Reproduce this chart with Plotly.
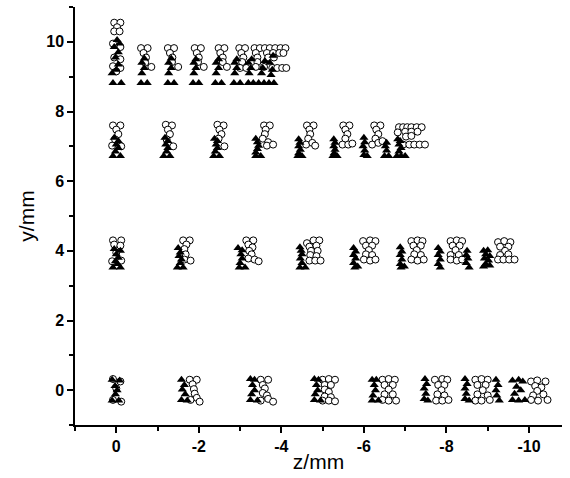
import plotly.graph_objects as go

# ---- data: (z, y) pairs, grouped by row ----
tri_row0 = [(0.1,0.3),(-0.08,0.28),(0.03,0.12),(-0.02,0.0),(0.02,-0.12),(0.1,-0.3),(-0.06,-0.3),
            (-1.58,0.3),(-1.65,0.15),(-1.6,0.02),(-1.67,-0.12),(-1.58,-0.28),(-1.72,-0.3),
            (-3.25,0.32),(-3.35,0.3),(-3.3,0.15),(-3.35,0.0),(-3.28,-0.12),(-3.25,-0.28),(-3.42,-0.3),
            (-4.8,0.32),(-4.9,0.3),(-4.85,0.15),(-4.88,0.0),(-4.82,-0.12),(-4.8,-0.28),(-4.95,-0.3),
            (-6.2,0.3),(-6.3,0.3),(-6.25,0.15),(-6.28,0.0),(-6.22,-0.15),(-6.2,-0.3),(-6.35,-0.3),
            (-7.48,0.32),(-7.52,0.18),(-7.46,0.05),(-7.5,-0.1),(-7.46,-0.25),(-7.55,-0.3),
            (-8.45,0.32),(-8.5,0.18),(-8.45,0.05),(-8.48,-0.1),(-8.45,-0.25),(-8.55,-0.3),
            (-9.2,0.3),(-9.25,0.15),(-9.2,0.0),(-9.22,-0.15),(-9.28,-0.3),
            (-9.6,0.28),(-9.75,0.3),(-9.85,0.25),(-9.7,0.1),(-9.8,0.0),(-9.65,-0.1),(-9.6,-0.28),(-9.75,-0.3),(-9.9,-0.28)]
circ_row0 = [(0.08,0.32),(-0.1,0.25),(0.0,0.05),(0.08,-0.28),(-0.12,-0.33),
             (-1.78,0.3),(-1.95,0.3),(-1.85,0.17),(-1.88,0.03),(-1.9,-0.1),(-1.95,-0.22),(-2.02,-0.33),(-1.8,-0.28),
             (-3.5,0.3),(-3.68,0.3),(-3.55,0.15),(-3.6,0.05),(-3.55,-0.08),(-3.65,-0.15),(-3.5,-0.3),(-3.68,-0.25),(-3.8,-0.33),
             (-5.0,0.3),(-5.15,0.32),(-5.3,0.3),(-5.05,0.15),(-5.2,0.15),(-5.05,0.02),(-5.15,-0.05),(-5.05,-0.18),(-5.2,-0.2),(-5.0,-0.3),(-5.15,-0.3),(-5.3,-0.32),
             (-6.45,0.3),(-6.6,0.32),(-6.75,0.3),(-6.5,0.15),(-6.7,0.15),(-6.6,0.02),(-6.5,-0.12),(-6.7,-0.12),(-6.45,-0.28),(-6.6,-0.3),(-6.78,-0.3),
             (-7.72,0.3),(-7.9,0.32),(-8.02,0.3),(-7.8,0.15),(-7.95,0.15),(-7.88,0.0),(-7.78,-0.12),(-7.95,-0.15),(-7.75,-0.3),(-7.9,-0.3),(-8.05,-0.28),
             (-8.7,0.3),(-8.85,0.32),(-9.0,0.3),(-8.75,0.15),(-8.95,0.15),(-8.88,0.0),(-8.75,-0.12),(-9.0,-0.15),(-8.7,-0.3),(-8.85,-0.3),(-9.05,-0.28),
             (-10.05,0.25),(-10.2,0.28),(-10.4,0.25),(-10.15,0.12),(-10.3,0.08),(-10.2,-0.02),(-10.1,-0.15),(-10.35,-0.12),(-10.05,-0.28),(-10.22,-0.3),(-10.45,-0.28)]

tri_row4 = [(0.05,4.05),(-0.1,4.0),(0.0,3.9),(-0.05,3.8),(0.02,3.7),(0.08,3.52),(-0.1,3.52),(-0.03,3.62),
            (-1.5,4.08),(-1.55,3.95),(-1.52,3.85),(-1.58,3.75),(-1.55,3.65),(-1.48,3.52),(-1.62,3.52),
            (-2.95,4.08),(-3.05,4.02),(-3.02,3.9),(-3.05,3.78),(-3.0,3.65),(-2.98,3.52),(-3.12,3.52),
            (-4.45,4.1),(-4.48,4.0),(-4.5,3.9),(-4.46,3.78),(-4.5,3.65),(-4.45,3.52),(-4.58,3.52),
            (-5.75,4.08),(-5.8,3.98),(-5.75,3.88),(-5.8,3.78),(-5.75,3.65),(-5.78,3.52),(-5.85,3.55),
            (-6.88,4.1),(-6.92,3.98),(-6.88,3.88),(-6.92,3.75),(-6.88,3.62),(-6.9,3.52),(-6.98,3.55),
            (-7.8,4.08),(-7.85,3.98),(-7.8,3.88),(-7.85,3.75),(-7.8,3.62),(-7.85,3.52),
            (-8.5,4.0),(-8.48,3.88),(-8.52,3.78),(-8.48,3.65),(-8.55,3.52),
            (-8.9,4.0),(-9.0,4.02),(-8.95,3.9),(-9.05,3.85),(-8.92,3.78),(-9.02,3.72),(-8.95,3.62),(-9.05,3.58),(-8.9,3.55)]
circ_row4 = [(0.08,4.3),(-0.12,4.3),(0.05,4.18),(-0.1,4.15),(0.0,3.95),(0.1,3.7),(-0.12,3.72),
             (-1.62,4.3),(-1.78,4.3),(-1.7,4.18),(-1.65,4.05),(-1.68,3.9),(-1.65,3.75),(-1.8,3.72),
             (-3.15,4.3),(-3.32,4.3),(-3.2,4.18),(-3.3,4.1),(-3.22,4.0),(-3.28,3.9),(-3.2,3.78),(-3.35,3.75),(-3.45,3.7),
             (-4.62,4.22),(-4.78,4.3),(-4.92,4.3),(-4.68,4.12),(-4.85,4.15),(-4.72,4.0),(-4.88,4.0),(-4.7,3.88),(-4.85,3.85),(-4.68,3.72),(-4.82,3.72),(-4.95,3.72),
             (-5.98,4.28),(-6.15,4.3),(-6.28,4.28),(-6.05,4.15),(-6.2,4.15),(-6.12,4.02),(-6.05,3.9),(-6.2,3.88),(-6.0,3.75),(-6.15,3.72),(-6.28,3.75),
             (-7.15,4.28),(-7.3,4.3),(-7.42,4.28),(-7.2,4.15),(-7.38,4.15),(-7.28,4.02),(-7.22,3.9),(-7.38,3.88),(-7.15,3.75),(-7.3,3.72),(-7.45,3.75),
             (-8.1,4.28),(-8.25,4.3),(-8.38,4.28),(-8.15,4.15),(-8.32,4.15),(-8.22,4.02),(-8.1,3.88),(-8.3,3.88),(-8.1,3.75),(-8.25,3.72),(-8.38,3.75),
             (-9.25,4.25),(-9.4,4.28),(-9.55,4.25),(-9.3,4.12),(-9.5,4.12),(-9.42,4.0),(-9.3,3.88),(-9.5,3.9),(-9.25,3.75),(-9.38,3.75),(-9.52,3.75),(-9.65,3.75)]

tri_row7 = [(0.05,7.25),(-0.05,7.15),(0.0,7.05),(-0.05,6.95),(0.02,6.85),(0.08,6.72),(-0.1,6.72),
            (-1.18,7.25),(-1.25,7.15),(-1.2,7.05),(-1.25,6.95),(-1.22,6.85),(-1.15,6.72),(-1.3,6.72),
            (-2.38,7.22),(-2.45,7.15),(-2.42,7.05),(-2.45,6.95),(-2.4,6.85),(-2.36,6.72),(-2.5,6.72),
            (-3.38,7.22),(-3.42,7.12),(-3.45,7.02),(-3.42,6.92),(-3.38,6.82),(-3.38,6.72),(-3.5,6.72),
            (-4.42,7.2),(-4.45,7.1),(-4.42,7.0),(-4.46,6.9),(-4.42,6.8),(-4.4,6.72),(-4.5,6.72),
            (-5.27,7.2),(-5.3,7.1),(-5.27,7.0),(-5.3,6.9),(-5.28,6.8),(-5.25,6.72),(-5.35,6.72),
            (-6.0,7.25),(-6.02,7.12),(-5.98,7.0),(-6.02,6.88),(-6.0,6.75),(-6.08,6.72),
            (-6.55,7.1),(-6.52,7.0),(-6.55,6.88),(-6.5,6.72),(-6.6,6.72),
            (-6.82,7.2),(-6.88,7.15),(-6.85,7.05),(-6.9,6.95),(-6.85,6.85),(-6.8,6.72),(-6.9,6.72),(-7.0,6.72)]
circ_row7 = [(0.08,7.6),(-0.1,7.6),(0.0,7.48),(-0.05,7.35),(0.1,7.02),(-0.12,7.0),(0.03,7.2),
             (-1.2,7.62),(-1.35,7.6),(-1.25,7.48),(-1.3,7.35),(-1.22,7.2),(-1.38,7.0),
             (-2.45,7.62),(-2.6,7.6),(-2.5,7.48),(-2.55,7.35),(-2.48,7.22),(-2.62,7.0),
             (-3.58,7.6),(-3.72,7.6),(-3.62,7.48),(-3.6,7.35),(-3.55,7.22),(-3.68,7.12),(-3.65,7.02),(-3.8,7.05),
             (-4.62,7.6),(-4.78,7.6),(-4.68,7.48),(-4.7,7.35),(-4.65,7.22),(-4.6,7.05),(-4.75,7.1),(-4.82,7.02),
             (-5.5,7.6),(-5.65,7.6),(-5.55,7.48),(-5.6,7.35),(-5.55,7.22),(-5.48,7.05),(-5.62,7.05),(-5.72,7.08),
             (-6.25,7.6),(-6.4,7.6),(-6.3,7.48),(-6.35,7.35),(-6.28,7.22),(-6.2,7.05),(-6.35,7.1),(-6.45,7.15),
             (-6.85,7.55),(-6.82,7.4),(-6.95,7.55),(-7.05,7.55),(-7.15,7.55),(-7.28,7.55),(-7.4,7.55),(-7.0,7.42),(-7.15,7.42),(-7.3,7.42),
             (-7.02,7.28),(-7.15,7.3),(-6.95,7.05),(-7.1,7.05),(-7.22,7.05),(-7.35,7.05),(-7.48,7.05)]

tri_row9 = [(0.08,8.82),(-0.12,8.82),(0.0,9.2),(-0.05,9.35),(0.02,9.55),(-0.05,9.7),(0.05,9.85),(-0.02,10.05),(0.1,9.1),(-0.08,9.95),
            (-0.6,8.82),(-0.75,8.82),(-0.62,9.1),(-0.68,9.25),(-0.62,9.4),(-0.68,9.52),
            (-1.25,8.82),(-1.4,8.82),(-1.27,9.1),(-1.33,9.25),(-1.27,9.4),(-1.33,9.52),
            (-1.86,8.82),(-2.0,8.82),(-1.88,9.1),(-1.93,9.25),(-1.88,9.4),(-1.93,9.5),
            (-2.4,8.82),(-2.55,8.82),(-2.42,9.1),(-2.48,9.25),(-2.42,9.4),(-2.48,9.5),
            (-2.85,8.82),(-3.0,8.82),(-2.87,9.1),(-2.92,9.25),(-2.87,9.4),(-2.92,9.5),
            (-3.2,8.82),(-3.32,8.82),(-3.22,9.1),(-3.26,9.25),(-3.2,9.4),(-3.28,9.5),
            (-3.45,8.82),(-3.58,8.82),(-3.7,8.82),(-3.82,8.82),(-3.52,9.1),(-3.55,9.25),(-3.6,9.45),
            (-3.75,9.05),(-3.78,9.2),(-3.72,9.4),(-3.8,9.6)]
circ_row9 = [(0.05,10.55),(-0.1,10.55),(-0.02,10.42),(0.05,10.3),(-0.08,10.3),(0.08,9.95),(-0.1,9.85),(0.05,9.55),(-0.1,9.5),(0.08,9.3),(-0.1,9.25),(0.0,9.15),
             (-0.6,9.82),(-0.76,9.82),(-0.66,9.68),(-0.72,9.55),(-0.7,9.4),(-0.85,9.28),
             (-1.25,9.82),(-1.4,9.82),(-1.3,9.68),(-1.36,9.55),(-1.35,9.42),(-1.5,9.28),
             (-1.9,9.82),(-2.05,9.82),(-1.95,9.68),(-2.0,9.55),(-1.98,9.42),(-2.12,9.28),
             (-2.48,9.82),(-2.62,9.82),(-2.52,9.68),(-2.58,9.55),(-2.58,9.42),(-2.68,9.28),
             (-2.98,9.82),(-3.12,9.82),(-3.03,9.68),(-3.08,9.55),(-3.05,9.42),(-3.0,9.25),(-3.15,9.25),
             (-3.35,9.82),(-3.48,9.82),(-3.38,9.68),(-3.42,9.55),(-3.42,9.42),(-3.38,9.28),
             (-3.6,9.82),(-3.72,9.82),(-3.85,9.82),(-3.98,9.82),(-4.1,9.82),(-3.65,9.68),(-3.8,9.68),(-3.95,9.68),(-4.05,9.68),
             (-3.68,9.55),(-3.82,9.55),(-3.58,9.28),(-3.78,9.25),(-3.9,9.25),(-4.02,9.25),(-4.12,9.25)]

x_tickvals = [0, -2, -4, -6, -8, -10]
y_tickvals = [0, 2, 4, 6, 8, 10]

circ_all = circ_row0 + circ_row4 + circ_row7 + circ_row9
tri_all = tri_row0 + tri_row4 + tri_row7 + tri_row9

fig = go.Figure()
fig.add_trace(go.Scatter(
    x=[p[0] for p in circ_all], y=[p[1] for p in circ_all], mode="markers",
    marker=dict(symbol="circle", size=7, color="white", line=dict(color="black", width=1)),
    showlegend=False, hoverinfo="skip"))
fig.add_trace(go.Scatter(
    x=[p[0] for p in tri_all], y=[p[1] for p in tri_all], mode="markers",
    marker=dict(symbol="triangle-up", size=8, color="black", line=dict(width=0)),
    showlegend=False, hoverinfo="skip"))

tickfont = dict(family="Liberation Sans, Arial, sans-serif", size=16, color="black", weight="bold")
titlefont = dict(family="Liberation Sans, Arial, sans-serif", size=21, color="black")

fig.update_layout(
    width=570, height=478,
    margin=dict(l=75, r=8, t=7, b=53),
    paper_bgcolor="white", plot_bgcolor="white",
    xaxis=dict(range=[1, -10.8], tickvals=x_tickvals, ticktext=[str(v) for v in x_tickvals],
               ticks="outside", ticklen=6, tickwidth=1.5, tickcolor="black",
               minor=dict(dtick=1, tick0=1, ticks="outside", ticklen=4, tickwidth=1.5, tickcolor="black"),
               showline=True, linecolor="black", linewidth=1.5, showgrid=False, zeroline=False,
               tickfont=tickfont, title=dict(text="z/mm", font=titlefont, standoff=0)),
    yaxis=dict(range=[-1, 11], tickvals=y_tickvals, ticktext=[str(v) for v in y_tickvals],
               ticks="outside", ticklen=6, tickwidth=1.5, tickcolor="black",
               minor=dict(dtick=1, tick0=1, ticks="outside", ticklen=4, tickwidth=1.5, tickcolor="black"),
               showline=True, linecolor="black", linewidth=1.5, showgrid=False, zeroline=False,
               tickfont=tickfont, title=dict(text="y/mm", font=titlefont, standoff=6)),
)

fig.write_html("out.html", config={"displayModeBar": False},
               post_script="document.body.style.margin='0';document.body.style.padding='0';")
